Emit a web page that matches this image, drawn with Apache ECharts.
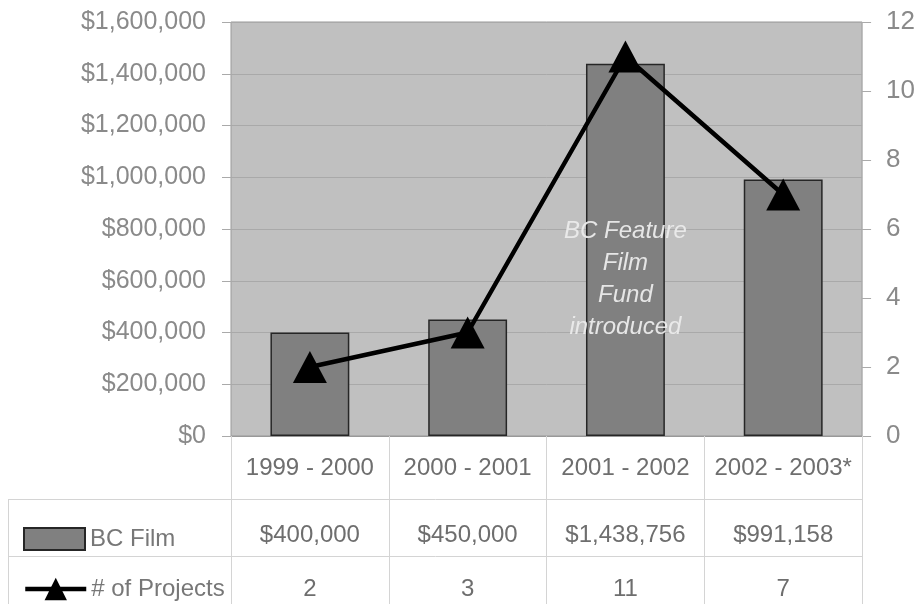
<!DOCTYPE html>
<html>
<head>
<meta charset="utf-8">
<script src="https://cdn.jsdelivr.net/npm/echarts@6/dist/echarts.min.js"></script>
<style>
  html, body { margin: 0; padding: 0; background: #fff; }
  #chart { width: 918px; height: 604px; }
</style>
</head>
<body>
<div id="chart"></div>
<script>
const seasons = ['1999 - 2000', '2000 - 2001', '2001 - 2002', '2002 - 2003*']
const bcFilm = [400000, 450000, 1438756, 991158]
const projects = [2, 3, 11, 7]
const noteText = 'BC Feature\nFilm\nFund\nintroduced'
const noteIndex = 2

const FONT = '"Liberation Sans", Arial, sans-serif'
const money = v => '$' + Number(v).toLocaleString('en-US')

const chart = echarts.init(document.getElementById('chart'))

const barData = bcFilm.map((v, i) => {
  if (i !== noteIndex) return v
  return {
    value: v,
    label: {
      show: true,
      position: ['50%', '58%'],
      align: 'center',
      verticalAlign: 'middle',
      formatter: noteText,
      color: 'rgba(235,235,235,0.95)',
      fontStyle: 'italic',
      fontFamily: FONT,
      fontSize: 24,
      lineHeight: 32
    }
  }
})

const rowAxis = (idx, margin, fmt) => ({
  type: 'category',
  data: seasons,
  position: 'bottom',
  axisLine: { show: idx === 0, lineStyle: { color: '#999', width: 1 } },
  axisTick: {
    show: idx === 0,
    interval: 0,
    length: 168,
    lineStyle: { color: '#d4d4d4', width: 1 }
  },
  axisLabel: {
    interval: 0,
    margin: margin,
    verticalAlign: 'middle',
    color: '#6e6e6e',
    fontFamily: FONT,
    fontSize: 24,
    formatter: fmt
  },
  splitLine: { show: false }
})

const legendText = { color: '#777', fontFamily: FONT, fontSize: 24 }

const option = {
  animation: false,
  backgroundColor: '#fff',
  grid: {
    left: 231,
    top: 22,
    width: 632,
    height: 414,
    show: true,
    backgroundColor: '#c0c0c0',
    borderColor: '#999',
    borderWidth: 1
  },
  legend: [
    {
      left: 18,
      top: 522,
      itemWidth: 61,
      itemHeight: 22,
      itemGap: 8,
      textStyle: legendText,
      data: [{ name: 'BC Film', icon: 'rect' }]
    },
    {
      left: 18,
      top: 572,
      itemWidth: 61,
      itemHeight: 28,
      itemGap: 8,
      textStyle: legendText,
      lineStyle: { width: 4.5, color: '#000' },
      data: [{ name: '# of Projects' }]
    }
  ],
  xAxis: [
    rowAxis(0, 32, v => v),
    rowAxis(1, 99, (v, i) => money(bcFilm[i])),
    rowAxis(2, 153, (v, i) => String(projects[i]))
  ],
  yAxis: [
    {
      type: 'value',
      min: 0,
      max: 1600000,
      interval: 200000,
      axisLine: { show: false },
      axisTick: { show: true, length: 9, lineStyle: { color: '#aaa' } },
      axisLabel: { margin: 25, color: '#8a8a8a', fontFamily: FONT, fontSize: 25, formatter: money },
      splitLine: { lineStyle: { color: '#a9a9a9', width: 1 } }
    },
    {
      type: 'value',
      min: 0,
      max: 12,
      interval: 2,
      position: 'right',
      axisLine: { show: false },
      axisTick: { show: true, length: 9, lineStyle: { color: '#aaa' } },
      axisLabel: { margin: 24, color: '#8a8a8a', fontFamily: FONT, fontSize: 26 },
      splitLine: { show: false }
    }
  ],
  graphic: [
    { type: 'line', shape: { x1: 8, y1: 499.5, x2: 863, y2: 499.5 }, style: { stroke: '#d4d4d4', lineWidth: 1 } },
    { type: 'line', shape: { x1: 8, y1: 556.5, x2: 863, y2: 556.5 }, style: { stroke: '#d4d4d4', lineWidth: 1 } },
    { type: 'line', shape: { x1: 8.5, y1: 499, x2: 8.5, y2: 604 }, style: { stroke: '#d4d4d4', lineWidth: 1 } }
  ],
  series: [
    {
      name: 'BC Film',
      type: 'bar',
      xAxisIndex: 0,
      yAxisIndex: 0,
      barWidth: '50%',
      data: barData,
      itemStyle: { color: '#808080', borderColor: '#262626', borderWidth: 1.5 }
    },
    {
      name: '# of Projects',
      type: 'line',
      xAxisIndex: 0,
      yAxisIndex: 1,
      data: projects,
      symbol: 'triangle',
      symbolSize: [34, 32],
      lineStyle: { color: '#000', width: 4.5 },
      itemStyle: { color: '#000' },
      z: 5
    }
  ]
}

chart.setOption(option)
</script>
</body>
</html>
